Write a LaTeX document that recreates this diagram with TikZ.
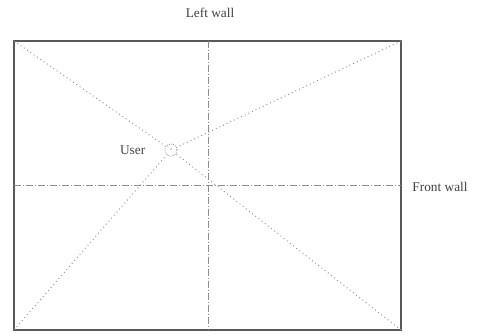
\documentclass[tikz,border=0pt]{standalone}
\usepackage{fontspec}
\setmainfont{Liberation Serif}
\usetikzlibrary{positioning,calc}
\definecolor{wallgray}{gray}{0.35}
\definecolor{linegray}{gray}{0.55}

\begin{document}
\begin{tikzpicture}[x=0.75pt,y=-0.75pt,
    wall/.style={draw=wallgray, line width=0.9pt},
    midline/.style={draw=linegray, line width=0.5pt, dash pattern=on 5pt off 1.5pt on 1pt off 1.5pt},
    sightline/.style={draw=linegray, line width=0.7pt, dash pattern=on 0.7pt off 2.3pt},
    label/.style={text=black!75, font=\normalsize}]
    \useasboundingbox (0,0) rectangle (498,335);
    % room corners
    \coordinate (nw) at (14,41);
    \coordinate (ne) at (401,41);
    \coordinate (sw) at (14,330);
    \coordinate (se) at (401,330);
    \draw[wall] (nw) -- (ne) -- (se) -- (sw) -- cycle;
    % centre lines
    \coordinate (ntop) at (208,41);
    \coordinate (nbot) at (208,330);
    \coordinate (wleft) at (14,185);
    \coordinate (wright) at (401,185);
    \draw[midline] (ntop) -- (nbot);
    \draw[midline] (wleft) -- (wright);
    % user position
    \node[circle, draw=linegray, densely dotted, line width=0.6pt, minimum size=9pt, inner sep=0pt,
          font=\fontsize{3}{3}\selectfont, text=linegray] (user) at (171,150) {u};
    \draw[sightline] (nw) -- (user);
    \draw[sightline] (ne) -- (user);
    \draw[sightline] (sw) -- (user);
    \draw[sightline] (se) -- (user);
    % labels
    \node[label] (lwall) at (210,13) {Left wall};
    \node[label, left=11pt of user] (ulabel) {User};
    \node[label] (fwall) at (440,187) {Front wall};
\end{tikzpicture}
\end{document}
